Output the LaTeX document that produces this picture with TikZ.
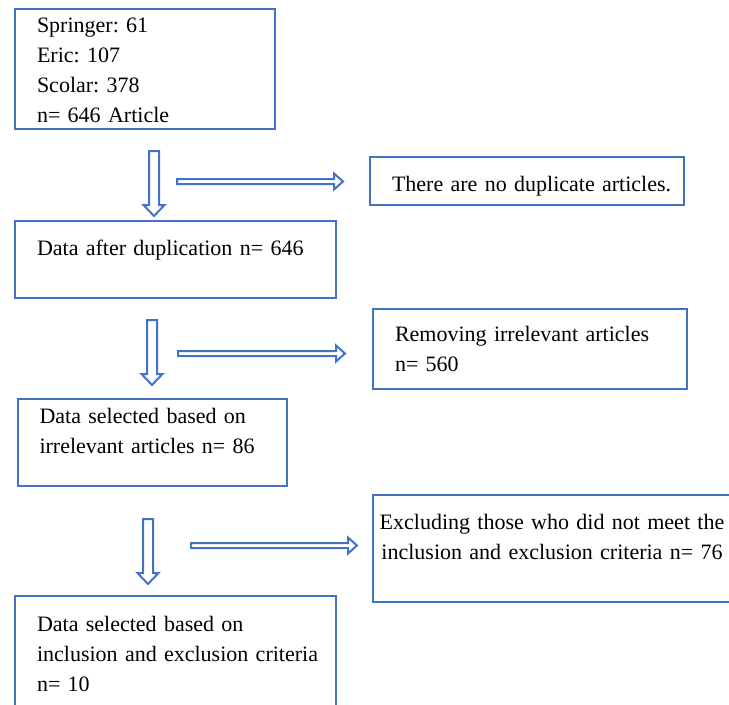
\documentclass[tikz,border=0pt]{standalone}
\usepackage{fontspec}
\setmainfont{Liberation Serif}
\usepackage{xcolor}
\definecolor{boxblue}{RGB}{68,114,196}
\newdimen\px
\px=0.75pt
\tikzset{
    box/.style = {draw=boxblue, line width=2\px, anchor=north west,
        inner xsep=22\px, inner ysep=0pt,
        font=\fontsize{16.5pt}{22.5pt}\selectfont\frenchspacing},
    leftbox/.style = {box, align=left,
        execute at begin node={\hyphenpenalty=10000\relax
            \rightskip=-30\px plus 2em\relax}},
    centerbox/.style = {box, align=center},
    arrowline/.style = {draw=boxblue, line width=2\px, line join=miter},
    darrow/.pic = {
    \draw[arrowline] (-5,0) -- (5,0) -- (5,#1-11) -- (10.5,#1-11) -- (0,#1)
        -- (-10.5,#1-11) -- (-5,#1-11) -- cycle;
    },
    rarrow/.pic = {
    \draw[arrowline] (0,-2.5) -- (#1-9,-2.5) -- (#1-9,-8) -- (#1,0)
        -- (#1-9,8) -- (#1-9,2.5) -- (0,2.5) -- cycle;
    }
}

\begin{document}
\begin{tikzpicture}[x=1\px,y=-1\px]
    \useasboundingbox (0,0) rectangle (729,704);

    % left column
    \node[leftbox, text width=216\px, text height=23\px, text depth=97\px] (src) at (14,8)
        {Springer: 61\\Eric: 107\\Scolar: 378\\n= 646 Article};
    \node[leftbox, text width=277\px, text height=35\px, text depth=42\px] (dup) at (14,219.5)
        {Data after duplication n= 646};
    \node[leftbox, text width=225\px, text height=24\px, text depth=63\px] (sel) at (16.5,398)
        {Data selected based on\\irrelevant articles n= 86};
    \node[leftbox, text width=277\px, text height=35\px, text depth=90\px] (final) at (14,595)
        {Data selected based on\\inclusion and exclusion criteria\\n= 10};

    % right column
    \node[leftbox, text width=270\px, text height=34\px, text depth=14\px] (nodup) at (369,156)
        {There are no duplicate articles.};
    \node[leftbox, text width=270\px, text height=32\px, text depth=48\px] (irrel) at (372,308)
        {Removing irrelevant articles\\n= 560};
    \node[centerbox, inner xsep=2\px, text width=354\px, text height=34\px,
        text depth=73\px] (excl) at (372,494)
        {Excluding those who did not meet the\\inclusion and exclusion criteria n= 76};

    % hollow arrows
    \path (src.south west) ++(140,21) pic {darrow=65};
    \path (dup.south west) ++(138,21.5) pic {darrow=65};
    \path (sel.south west) ++(131.5,32) pic {darrow=65};
    \path (src.south west) ++(163,51.5) pic {rarrow=166};
    \path (dup.south west) ++(164,55) pic {rarrow=167};
    \path (sel.south west) ++(174.5,58.5) pic {rarrow=166};
\end{tikzpicture}
\end{document}
